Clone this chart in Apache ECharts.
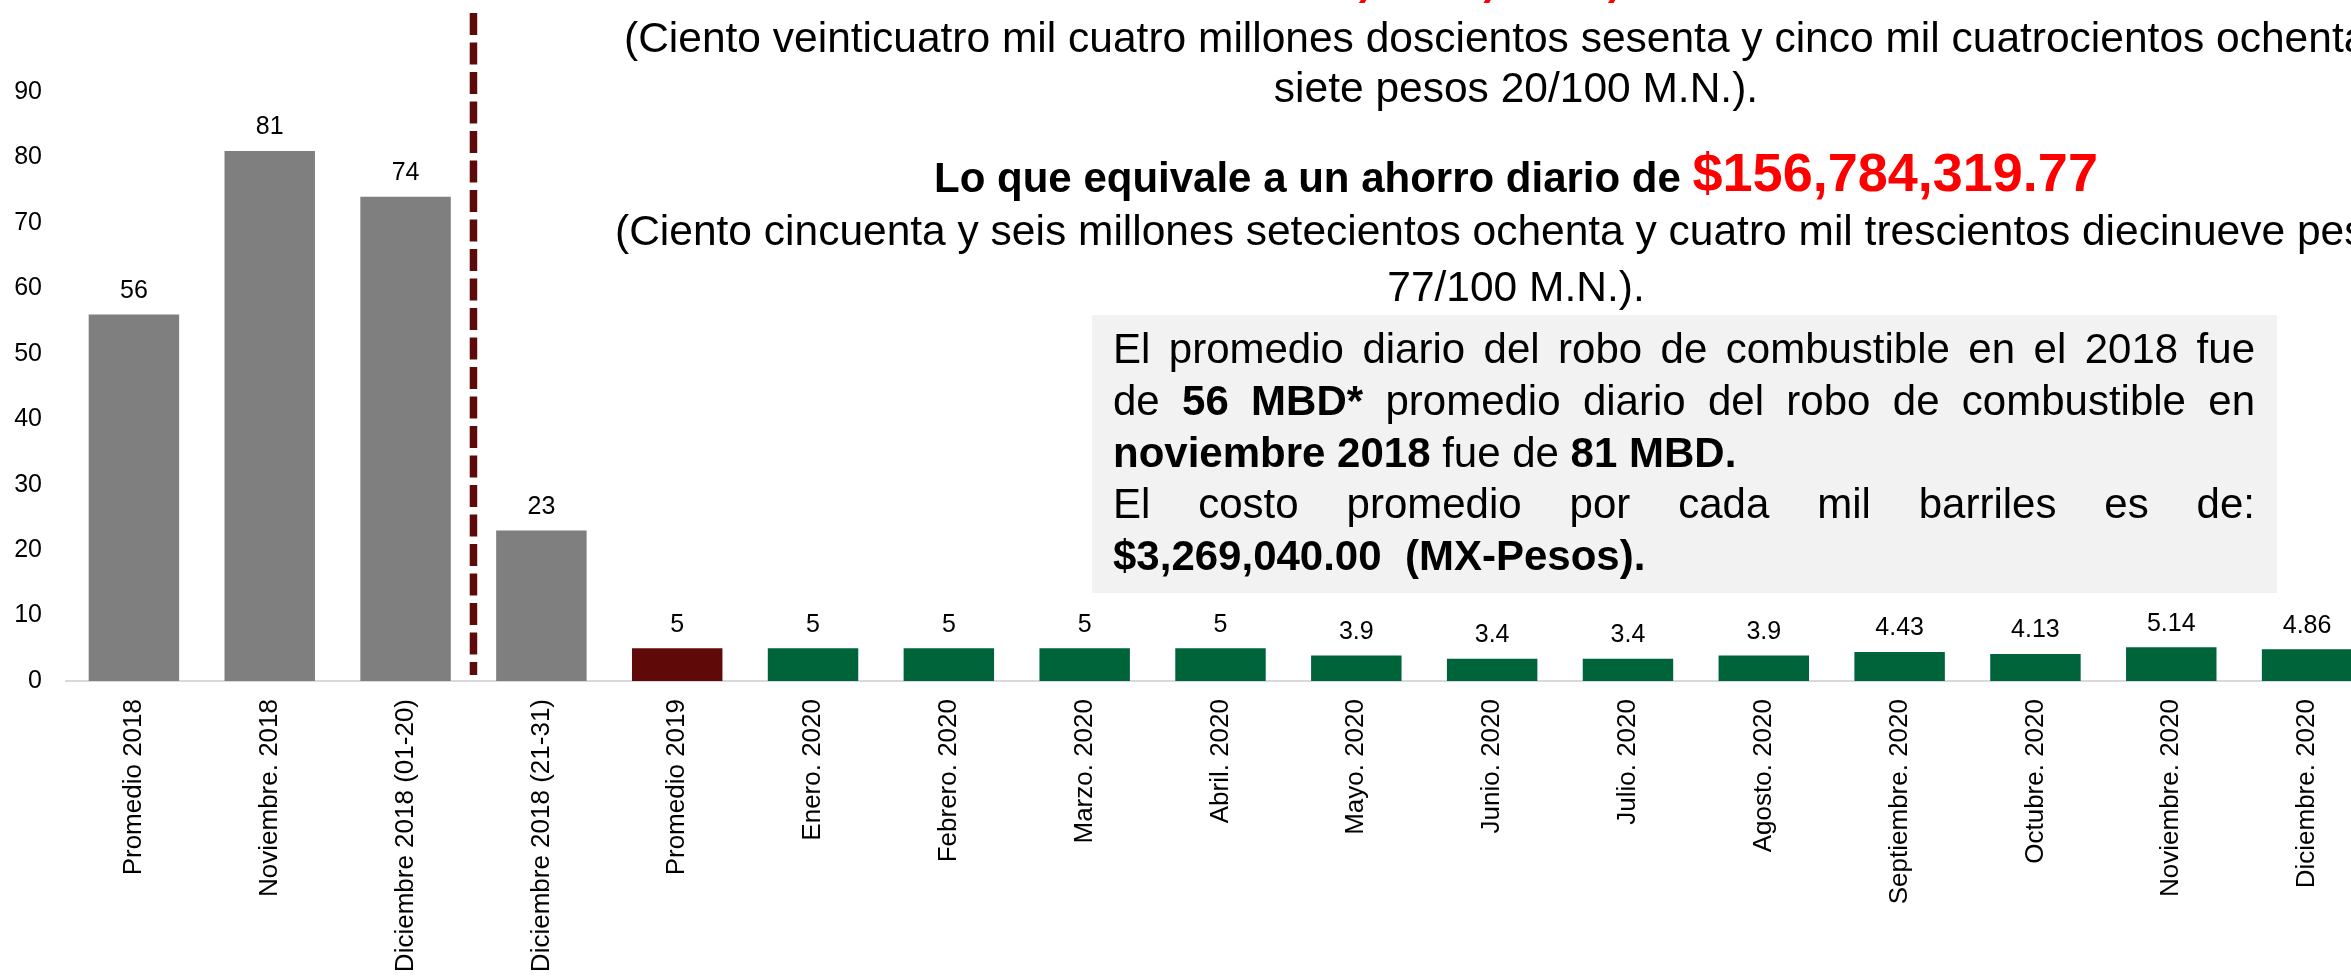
<!DOCTYPE html>
<html>
<head>
<meta charset="utf-8">
<script src="https://cdn.jsdelivr.net/npm/echarts@6/dist/echarts.min.js"></script>
<style>
  html, body { margin: 0; padding: 0; background: #fff; overflow: hidden; }
  /* un poco más ancho que la ventana: la última barra queda cortada */
  #chart { width: 2375px; height: 978px; }
</style>
</head>
<body>
<div id="chart"></div>
<script>
// datos de la gráfica (MBD)
const categories = [
  "Promedio 2018", "Noviembre. 2018", "Diciembre 2018 (01-20)", "Diciembre 2018 (21-31)",
  "Promedio 2019", "Enero. 2020", "Febrero. 2020", "Marzo. 2020", "Abril. 2020",
  "Mayo. 2020", "Junio. 2020", "Julio. 2020", "Agosto. 2020", "Septiembre. 2020",
  "Octubre. 2020", "Noviembre. 2020", "Diciembre. 2020"
];
const values = [56, 81, 74, 23, 5, 5, 5, 5, 5, 3.9, 3.4, 3.4, 3.9, 4.43, 4.13, 5.14, 4.86];
const yMin = 0;
const yMax = 90;
const yStep = 10;

const FONT = '"Liberation Sans", Arial, Helvetica, sans-serif';
const GRAY = "#7F7F7F";
const RED = "#600909";
const GREEN = "#00643A";

const ctx = document.createElement("canvas").getContext("2d");
const fontStr = (size, bold) => (bold ? "bold " : "") + size + "px " + FONT;
const measure = (t, size, bold) => {
  ctx.font = fontStr(size, bold);
  return ctx.measureText(t).width;
};

// un texto por tramo, alineado a la línea base
const textEl = (t, x, baseline, size, bold, color) => ({
  type: "text",
  x: x,
  y: baseline - 0.3465 * size,
  silent: true,
  style: {
    text: t,
    font: fontStr(size, bold),
    fill: color || "#000",
    textAlign: "left",
    textVerticalAlign: "middle",
    align: "left",
    verticalAlign: "middle",
  },
});

const runsLine = (runs, x, baseline, align) => {
  const widths = runs.map((r) => measure(r.t, r.size, r.bold));
  const total = widths.reduce((a, b) => a + b, 0);
  let cx = align === "center" ? x - total / 2 : x;
  return runs.map((r, i) => {
    const el = textEl(r.t, cx, baseline, r.size, r.bold, r.color);
    cx += widths[i];
    return el;
  });
};

// texto justificado: palabras repartidas en el ancho
const justifyLine = (words, x, baseline, width, size) => {
  const widths = words.map((w) => measure(w.t, size, w.bold));
  const sum = widths.reduce((a, b) => a + b, 0);
  const gap = (width - sum) / (words.length - 1);
  let cx = x;
  return words.map((w, i) => {
    const el = textEl(w.t, cx, baseline, size, w.bold, "#000");
    cx += widths[i] + gap;
    return el;
  });
};
const W = (s, bold) => s.split(" ").map((t) => ({ t, bold: !!bold }));

const FS = 42.5;
const header = [
  ...runsLine([{ t: "$124,004,265,487.20", size: 64, bold: true, color: "#FF0000" }], 1212, -2, "left"),
  ...runsLine([{ t: "(Ciento veinticuatro mil cuatro millones doscientos sesenta y cinco mil cuatrocientos ochenta y", size: FS }], 624, 55, "left"),
  ...runsLine([{ t: "siete pesos 20/100 M.N.).", size: FS }], 1516, 105, "center"),
  ...runsLine([
    { t: "Lo que equivale a un ahorro diario de ", size: 42, bold: true },
    { t: "$156,784,319.77", size: 54, bold: true, color: "#FF0000" },
  ], 1516, 195, "center"),
  ...runsLine([{ t: "(Ciento cincuenta y seis millones setecientos ochenta y cuatro mil trescientos diecinueve pesos", size: FS }], 615, 248, "left"),
  ...runsLine([{ t: "77/100 M.N.).", size: FS }], 1516, 304, "center"),
];

const boxX = 1113, boxW = 1142, b0 = 366, step = 51.8;
const BFS = 42;
const boxText = [
  { type: "rect", silent: true, z: -1, shape: { x: 1092, y: 315, width: 1185, height: 278 }, style: { fill: "#F2F2F2" } },
  ...justifyLine(W("El promedio diario del robo de combustible en el 2018 fue"), boxX, b0, boxW, BFS),
  ...justifyLine([...W("de"), ...W("56 MBD*", true), ...W("promedio diario del robo de combustible en")], boxX, b0 + step, boxW, BFS),
  ...runsLine([
    { t: "noviembre 2018", size: BFS, bold: true },
    { t: " fue de ", size: BFS },
    { t: "81 MBD.", size: BFS, bold: true },
  ], boxX, b0 + step * 2, "left"),
  ...justifyLine(W("El costo promedio por cada mil barriles es de:"), boxX, b0 + step * 3, boxW, BFS),
  ...runsLine([{ t: "$3,269,040.00  (MX-Pesos).", size: BFS, bold: true }], boxX, b0 + step * 4, "left"),
];

const chart = echarts.init(document.getElementById("chart"), null, { renderer: "canvas" });

const option = {
  backgroundColor: "#fff",
  animation: false,
  textStyle: { fontFamily: FONT },
  grid: { left: 66, right: 0, top: 92, bottom: 297, containLabel: false },
  xAxis: {
    type: "category",
    data: categories,
    axisTick: { show: false },
    axisLine: { show: true, lineStyle: { color: "#D9D9D9", width: 2 } },
    axisLabel: {
      interval: 0,
      rotate: 90,
      margin: 18,
      color: "#000",
      fontSize: 26,
      fontFamily: FONT,
    },
  },
  yAxis: {
    type: "value",
    min: yMin,
    max: yMax,
    interval: yStep,
    axisLine: { show: false },
    axisTick: { show: false },
    splitLine: { show: false },
    axisLabel: { color: "#000", fontSize: 25, fontFamily: FONT, margin: 24 },
  },
  series: [
    {
      type: "bar",
      data: values,
      barCategoryGap: "33.4%",
      itemStyle: {
        color: (p) => (p.dataIndex < 4 ? GRAY : p.dataIndex === 4 ? RED : GREEN),
      },
      label: {
        show: true,
        position: "top",
        distance: 11,
        color: "#000",
        fontSize: 25,
        fontFamily: FONT,
      },
    },
  ],
  graphic: [...header, ...boxText],
};

chart.setOption(option);

// línea divisoria punteada entre diciembre (01-20) y (21-31)
const xa = chart.convertToPixel({ xAxisIndex: 0 }, categories[2]);
const xb = chart.convertToPixel({ xAxisIndex: 0 }, categories[3]);
const xd = (xa + xb) / 2;
chart.setOption({
  graphic: [
    ...header,
    ...boxText,
    {
      type: "line",
      silent: true,
      shape: { x1: xd, y1: 13, x2: xd, y2: 675 },
      style: { stroke: "#5F0A0A", lineWidth: 7.5, lineDash: [22, 7.5] },
      z: 10,
    },
  ],
});
</script>
</body>
</html>
